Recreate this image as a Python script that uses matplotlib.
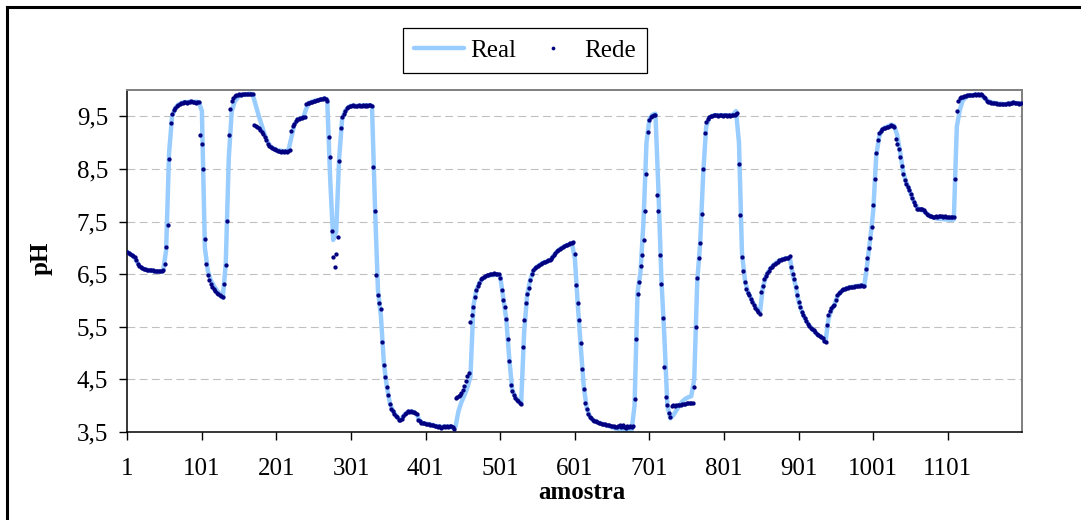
import numpy as np
import matplotlib
matplotlib.use("Agg")
import matplotlib.pyplot as plt
from matplotlib.lines import Line2D

plt.rcParams['font.family'] = ['Liberation Serif', 'DejaVu Serif']

# ---------------- data ----------------
# "Rede" (network output), one value every 2 samples: 1, 3, 5, ..., 1199
rede = [
    6.92, 6.90, 6.88, 6.87, 6.85, 6.83, 6.76, 6.69, 6.66, 6.63,   # 1-19
    6.61, 6.60, 6.59, 6.58, 6.58, 6.57, 6.57, 6.57, 6.56, 6.56,   # 21-39
    6.56, 6.56, 6.56, 6.56, 6.57, 6.70, 7.02, 7.43, 8.69, 9.37,   # 41-59
    9.55, 9.62, 9.66, 9.70, 9.72, 9.74, 9.75, 9.76, 9.77, 9.78,   # 61-79
    9.76, 9.78, 9.77, 9.79, 9.77, 9.78, 9.76, 9.78, 9.77, 9.14,   # 81-99
    8.97, 8.50, 7.17, 6.70, 6.48, 6.38, 6.31, 6.26, 6.21, 6.18,   # 101-119
    6.15, 6.13, 6.10, 6.08, 6.06, 6.32, 6.67, 7.51, 9.14, 9.64,   # 121-139
    9.80, 9.85, 9.89, 9.90, 9.91, 9.92, 9.91, 9.92, 9.93, 9.92,   # 141-159
    9.93, 9.92, 9.93, 9.92, 9.92, 9.33, 9.31, 9.29, 9.28, 9.24,   # 161-179
    9.21, 9.16, 9.10, 9.05, 8.98, 8.94, 8.91, 8.90, 8.88, 8.87,   # 181-199
    8.86, 8.84, 8.85, 8.83, 8.84, 8.82, 8.84, 8.83, 8.85, 8.86,   # 201-219
    9.22, 9.31, 9.36, 9.42, 9.44, 9.45, 9.47, 9.46, 9.48, 9.49,   # 221-239
    9.73, 9.75, 9.76, 9.78, 9.78, 9.79, 9.80, 9.81, 9.81, 9.82,   # 241-259
    9.82, 9.83, 9.84, 9.83, 9.79, 9.11, 8.73, 7.32, 6.83, 6.63,   # 261-279
    6.89, 7.21, 8.65, 9.27, 9.48, 9.55, 9.61, 9.65, 9.67, 9.69,   # 281-299
    9.70, 9.71, 9.70, 9.70, 9.69, 9.71, 9.70, 9.70, 9.72, 9.70,   # 301-319
    9.71, 9.70, 9.72, 9.71, 9.70, 8.54, 7.70, 6.48, 6.11, 5.96,   # 321-339
    5.83, 5.22, 4.77, 4.55, 4.36, 4.20, 4.04, 3.94, 3.89, 3.85,   # 341-359
    3.81, 3.78, 3.73, 3.72, 3.75, 3.80, 3.85, 3.87, 3.89, 3.88,   # 361-379
    3.89, 3.88, 3.88, 3.86, 3.85, 3.72, 3.70, 3.68, 3.67, 3.67,   # 381-399
    3.66, 3.66, 3.65, 3.64, 3.64, 3.63, 3.62, 3.61, 3.60, 3.61,   # 401-419
    3.58, 3.60, 3.62, 3.59, 3.61, 3.60, 3.62, 3.61, 3.60, 3.56,   # 421-439
    4.14, 4.17, 4.19, 4.21, 4.25, 4.29, 4.37, 4.47, 4.56, 4.62,   # 441-459
    5.60, 5.72, 5.88, 6.07, 6.19, 6.27, 6.33, 6.40, 6.43, 6.45,   # 461-479
    6.47, 6.48, 6.49, 6.50, 6.51, 6.51, 6.52, 6.51, 6.51, 6.50,   # 481-499
    6.42, 6.20, 6.00, 5.88, 5.65, 5.26, 4.84, 4.39, 4.27, 4.21,   # 501-519
    4.15, 4.11, 4.08, 4.05, 4.04, 5.12, 5.62, 5.95, 6.12, 6.24,   # 521-539
    6.39, 6.51, 6.57, 6.61, 6.64, 6.66, 6.68, 6.70, 6.72, 6.73,   # 541-559
    6.74, 6.75, 6.76, 6.77, 6.78, 6.83, 6.87, 6.91, 6.94, 6.96,   # 561-579
    6.98, 7.00, 7.02, 7.03, 7.05, 7.06, 7.07, 7.09, 7.10, 7.11,   # 581-599
    6.89, 6.29, 5.95, 5.62, 5.20, 4.69, 4.32, 4.05, 3.93, 3.85,   # 601-619
    3.79, 3.76, 3.73, 3.71, 3.70, 3.69, 3.68, 3.67, 3.66, 3.66,   # 621-639
    3.65, 3.64, 3.64, 3.63, 3.62, 3.61, 3.61, 3.60, 3.59, 3.61,   # 641-659
    3.63, 3.60, 3.63, 3.60, 3.58, 3.62, 3.60, 3.61, 3.59, 3.62,   # 661-679
    4.12, 5.26, 6.13, 6.35, 6.65, 6.86, 7.15, 7.70, 8.41, 9.20,   # 681-699
    9.43, 9.49, 9.51, 9.52, 9.53, 8.00, 7.70, 6.86, 6.32, 5.66,   # 701-719
    4.74, 4.17, 4.02, 3.86, 3.78, 4.00, 4.01, 4.00, 4.01, 4.02,   # 721-739
    4.01, 4.02, 4.03, 4.04, 4.04, 4.05, 4.05, 4.05, 4.06, 4.05,   # 741-759
    4.36, 5.50, 6.43, 6.80, 7.10, 7.65, 8.50, 9.18, 9.40, 9.45,   # 761-779
    9.48, 9.50, 9.51, 9.52, 9.53, 9.52, 9.51, 9.53, 9.52, 9.51,   # 781-799
    9.53, 9.52, 9.51, 9.52, 9.50, 9.52, 9.53, 9.52, 9.55, 9.56,   # 801-819
    8.60, 7.62, 6.82, 6.56, 6.35, 6.22, 6.14, 6.10, 6.03, 5.98,   # 821-839
    5.92, 5.86, 5.81, 5.78, 5.75, 6.16, 6.27, 6.40, 6.47, 6.53,   # 841-859
    6.56, 6.61, 6.64, 6.68, 6.70, 6.72, 6.74, 6.76, 6.77, 6.78,   # 861-879
    6.79, 6.80, 6.80, 6.81, 6.85, 6.64, 6.50, 6.40, 6.26, 6.10,   # 881-899
    5.97, 5.88, 5.78, 5.72, 5.66, 5.61, 5.56, 5.52, 5.48, 5.45,   # 901-919
    5.43, 5.40, 5.36, 5.34, 5.32, 5.30, 5.28, 5.23, 5.21, 5.53,   # 921-939
    5.72, 5.80, 5.85, 5.89, 5.91, 6.00, 6.10, 6.14, 6.17, 6.19,   # 941-959
    6.21, 6.22, 6.23, 6.24, 6.25, 6.25, 6.26, 6.26, 6.27, 6.27,   # 961-979
    6.28, 6.28, 6.29, 6.28, 6.27, 6.60, 6.80, 7.00, 7.18, 7.40,   # 981-999
    7.81, 8.30, 8.80, 9.05, 9.18, 9.23, 9.26, 9.27, 9.28, 9.29,   # 1001-1019
    9.30, 9.31, 9.33, 9.32, 9.30, 9.06, 8.98, 8.88, 8.72, 8.56,   # 1021-1039
    8.41, 8.29, 8.21, 8.15, 8.10, 8.02, 7.94, 7.88, 7.82, 7.73,   # 1041-1059
    7.74, 7.74, 7.74, 7.73, 7.72, 7.68, 7.65, 7.63, 7.61, 7.60,   # 1061-1079
    7.59, 7.59, 7.60, 7.59, 7.61, 7.60, 7.61, 7.59, 7.60, 7.58,   # 1081-1099
    7.59, 7.58, 7.59, 7.58, 7.58, 8.31, 9.60, 9.80, 9.84, 9.86,   # 1101-1119
    9.87, 9.89, 9.89, 9.90, 9.90, 9.91, 9.90, 9.91, 9.92, 9.91,   # 1121-1139
    9.92, 9.91, 9.92, 9.90, 9.87, 9.84, 9.80, 9.78, 9.77, 9.76,   # 1141-1159
    9.76, 9.75, 9.75, 9.74, 9.74, 9.73, 9.74, 9.73, 9.73, 9.74,   # 1161-1179
    9.75, 9.74, 9.76, 9.75, 9.77, 9.76, 9.75, 9.76, 9.74, 9.75,   # 1181-1199
]
rede_x = list(range(1, 1200, 2))

# "Real" (measured pH), one value every 4 samples: 1, 5, 9, ..., 1197
real = [
    6.92, 6.88, 6.85, 6.76, 6.66, 6.61, 6.59, 6.58, 6.57, 6.56,   # 1-37
    6.55, 6.55, 6.56, 6.95, 8.80, 9.50, 9.65, 9.72, 9.75, 9.77,   # 41-77
    9.77, 9.78, 9.77, 9.78, 9.77, 9.60, 7.00, 6.56, 6.38, 6.28,   # 81-117
    6.19, 6.13, 6.05, 6.70, 8.70, 9.60, 9.78, 9.86, 9.90, 9.91,   # 121-157
    9.92, 9.93, 9.92, 9.72, 9.52, 9.34, 9.16, 9.02, 8.93, 8.89,   # 161-197
    8.86, 8.85, 8.84, 8.84, 8.85, 9.10, 9.35, 9.43, 9.46, 9.48,   # 201-237
    9.65, 9.76, 9.78, 9.80, 9.81, 9.82, 9.84, 9.82, 8.30, 7.15,   # 241-277
    7.30, 8.70, 9.45, 9.60, 9.67, 9.70, 9.70, 9.70, 9.70, 9.71,   # 281-317
    9.71, 9.71, 9.70, 7.80, 6.20, 5.70, 4.80, 4.35, 4.05, 3.90,   # 321-357
    3.82, 3.75, 3.75, 3.84, 3.88, 3.89, 3.88, 3.84, 3.71, 3.67,   # 361-397
    3.66, 3.65, 3.64, 3.62, 3.61, 3.60, 3.60, 3.60, 3.60, 3.58,   # 401-437
    3.60, 3.90, 4.07, 4.20, 4.35, 4.55, 5.90, 6.20, 6.33, 6.41,   # 441-477
    6.45, 6.47, 6.48, 6.49, 6.50, 6.45, 6.05, 5.65, 4.90, 4.30,   # 481-517
    4.17, 4.09, 4.05, 5.40, 6.10, 6.38, 6.55, 6.63, 6.67, 6.71,   # 521-557
    6.73, 6.75, 6.78, 6.86, 6.93, 6.98, 7.01, 7.04, 7.07, 7.09,   # 561-597
    6.80, 5.90, 5.10, 4.35, 3.95, 3.80, 3.73, 3.70, 3.68, 3.66,   # 601-637
    3.64, 3.62, 3.60, 3.58, 3.56, 3.55, 3.54, 3.54, 3.53, 3.53,   # 641-677
    4.00, 6.15, 6.55, 7.50, 9.00, 9.45, 9.53, 9.55, 8.10, 6.40,   # 681-717
    5.30, 4.00, 3.76, 3.82, 3.91, 4.00, 4.08, 4.13, 4.16, 4.18,   # 721-757
    4.50, 6.35, 7.10, 8.40, 9.30, 9.47, 9.51, 9.52, 9.52, 9.52,   # 761-797
    9.52, 9.52, 9.52, 9.53, 9.60, 9.00, 6.90, 6.38, 6.16, 6.04,   # 801-837
    5.93, 5.83, 5.76, 6.25, 6.45, 6.56, 6.64, 6.70, 6.74, 6.77,   # 841-877
    6.79, 6.80, 6.82, 6.50, 6.28, 5.98, 5.80, 5.67, 5.57, 5.49,   # 881-917
    5.43, 5.37, 5.33, 5.29, 5.22, 5.65, 5.82, 5.92, 6.08, 6.16,   # 921-957
    6.20, 6.23, 6.25, 6.26, 6.27, 6.28, 6.29, 6.28, 6.70, 7.18,   # 961-997
    7.70, 8.75, 9.12, 9.25, 9.29, 9.31, 9.34, 9.32, 9.15, 8.82,   # 1001-1037
    8.45, 8.25, 8.12, 7.96, 7.84, 7.75, 7.72, 7.70, 7.65, 7.61,   # 1041-1077
    7.58, 7.56, 7.55, 7.55, 7.54, 7.54, 7.53, 7.54, 9.30, 9.62,   # 1081-1117
    9.80, 9.86, 9.89, 9.90, 9.91, 9.91, 9.91, 9.86, 9.81, 9.78,   # 1121-1157
    9.76, 9.75, 9.74, 9.74, 9.73, 9.74, 9.75, 9.76, 9.75, 9.75,   # 1161-1197
]
real_x = list(range(1, 1198, 4))

x_ticks = [1, 101, 201, 301, 401, 501, 601, 701, 801, 901, 1001, 1101]
y_ticks = [3.5, 4.5, 5.5, 6.5, 7.5, 8.5, 9.5]
y_tick_labels = ["3,5", "4,5", "5,5", "6,5", "7,5", "8,5", "9,5"]

# ---------------- figure ----------------
W, H = 1081, 520
fig = plt.figure(figsize=(W / 100, H / 100), dpi=100)
fig.patch.set_facecolor('white')

ax = fig.add_axes([127.3 / W, 1 - 432 / H, (1021.7 - 127.3) / W, (432 - 90) / H])

ax.plot(real_x, real, color='#99CCFF', lw=3.2, solid_joinstyle='round',
        solid_capstyle='round', zorder=2, label='Real')
ax.plot(rede_x, rede, linestyle='none', marker='o', markersize=3.1,
        markeredgewidth=0, color='#000080', zorder=3, label='Rede')

ax.set_xlim(1, 1200)
ax.set_ylim(3.5, 10.0)
ax.set_xticks(x_ticks)
ax.set_xticklabels([str(v) for v in x_ticks])
ax.set_yticks(y_ticks)
ax.set_yticklabels(y_tick_labels)

ax.tick_params(axis='both', direction='out', length=5.8, width=1.0,
               color='black', labelsize=18, labelcolor='black')
ax.tick_params(axis='x', pad=13)
ax.tick_params(axis='y', pad=8)

ax.yaxis.grid(True, color='#C0C0C0', lw=0.8, linestyle=(0, (7, 4)))
ax.set_axisbelow(True)

for side in ['left', 'bottom']:
    ax.spines[side].set_color('black')
    ax.spines[side].set_linewidth(1.1)
for side in ['top', 'right']:
    ax.spines[side].set_color('#7f7f7f')
    ax.spines[side].set_linewidth(1.4)

# axis titles
fig.text(582 / W, 1 - 499 / H, 'amostra', ha='center', va='baseline',
         fontsize=18, fontweight='bold')
fig.text(41.5 / W, 1 - 258.5 / H, 'pH', ha='center', va='center',
         rotation=90, fontsize=18, fontweight='bold')

# legend
h_real = Line2D([], [], color='#99CCFF', lw=3.2, solid_capstyle='round')
h_rede = Line2D([], [], linestyle='none', marker='o', markersize=2.7,
                markeredgewidth=0, color='#000080')
leg = fig.legend([h_real, h_rede], ['Real', 'Rede'], ncol=2,
                 loc='upper left', bbox_to_anchor=(403 / W, 1 - 28 / H),
                 bbox_transform=fig.transFigure, borderaxespad=0,
                 fontsize=18, handlelength=2.0, handletextpad=0.25,
                 columnspacing=0.45, borderpad=0.45, numpoints=1,
                 fancybox=False, framealpha=1, edgecolor='black')
leg.get_frame().set_linewidth(0.9)

# outer frame (left and top edges visible in the picture)
x0 = 7 / W
y0 = 1 - 7 / H
fig.add_artist(Line2D([x0, x0], [-0.05, y0], transform=fig.transFigure,
                      color='black', lw=2.2, solid_capstyle='projecting'))
fig.add_artist(Line2D([x0, 1.05], [y0, y0], transform=fig.transFigure,
                      color='black', lw=2.2, solid_capstyle='projecting'))

fig.savefig('out.png', dpi=100)
